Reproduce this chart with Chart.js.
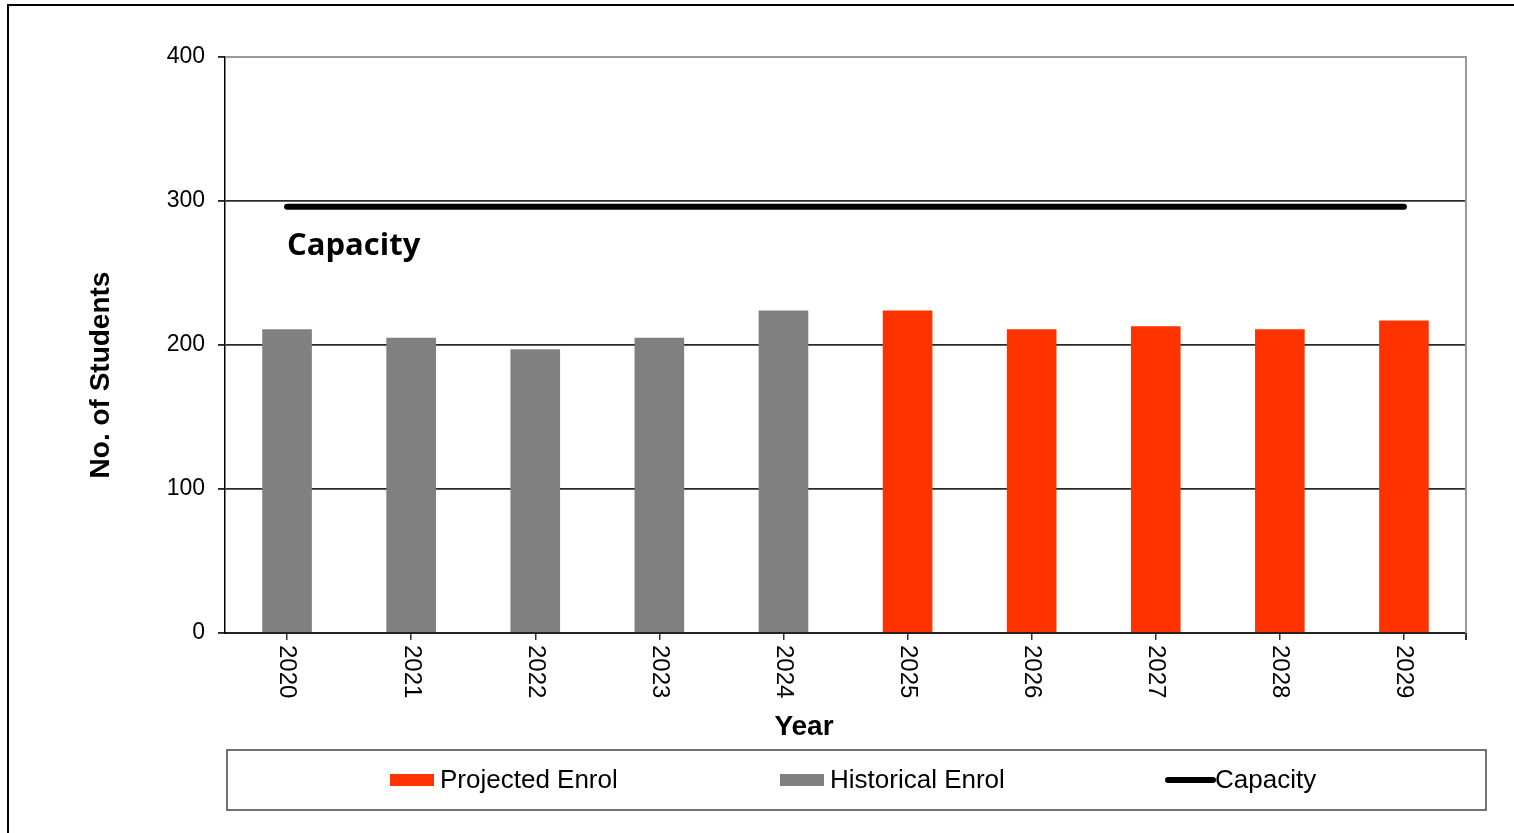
<!DOCTYPE html>
<html>
<head>
<meta charset="utf-8">
<script src="https://cdn.jsdelivr.net/npm/chart.js@4.4.1/dist/chart.umd.min.js"></script>
<style>
  html, body { margin: 0; padding: 0; background: #fff; overflow: hidden; }
  #frame { position: absolute; left: 7px; top: 4px; width: 1600px; height: 900px;
           border-left: 2px solid #000; border-top: 2px solid #000; }
  #wrap { position: absolute; left: 0; top: 0; width: 1514px; height: 833px; }
</style>
</head>
<body>
<div id="frame"></div>
<div id="wrap"><canvas id="enrolChart"></canvas></div>
<script>
const years = ['2020', '2021', '2022', '2023', '2024', '2025', '2026', '2027', '2028', '2029'];
const historicalEnrol = [211, 205, 197, 205, 224, null, null, null, null, null];
const projectedEnrol = [null, null, null, null, null, 224, 211, 213, 211, 217];
const capacity = [296, 296, 296, 296, 296, 296, 296, 296, 296, 296];
const yTicks = [0, 100, 200, 300, 400];

const RED = '#FF3300';
const GREY = '#808080';

// x labels are drawn rotated clockwise, plus axis titles, legend and plot border
const extras = {
    id: 'extras',
    afterDraw(chart) {
        const { ctx, chartArea, scales } = chart;
        const x = scales.x;
        ctx.save();

        // right / top border of the plot area
        ctx.strokeStyle = '#999999';
        ctx.lineWidth = 2;
        ctx.beginPath();
        ctx.moveTo(chartArea.left, chartArea.top);
        ctx.lineTo(chartArea.right, chartArea.top);
        ctx.lineTo(chartArea.right, chartArea.bottom);
        ctx.stroke();
        ctx.strokeStyle = '#333';
        ctx.beginPath();
        ctx.moveTo(chartArea.right, chartArea.bottom);
        ctx.lineTo(chartArea.right, chartArea.bottom + 7);
        ctx.stroke();

        // x tick labels
        ctx.fillStyle = '#000';
        ctx.font = '24px "Liberation Sans", Arial, sans-serif';
        ctx.textAlign = 'left';
        ctx.textBaseline = 'middle';
        years.forEach((yr, i) => {
            const px = x.getPixelForValue(i);
            ctx.save();
            ctx.translate(px, chartArea.bottom + 12);
            ctx.rotate(Math.PI / 2);
            ctx.fillText(yr, 0, 0);
            ctx.restore();
        });

        // axis titles
        ctx.font = 'bold 28px "Liberation Sans", Arial, sans-serif';
        ctx.textAlign = 'center';
        ctx.fillText('Year', 804, 727);
        ctx.save();
        ctx.translate(101, 375);
        ctx.rotate(-Math.PI / 2);
        ctx.fillText('No. of Students', 0, 0);
        ctx.restore();

        // capacity label
        ctx.font = 'bold 31px "Open Sans", sans-serif';
        ctx.textAlign = 'left';
        ctx.fillText('Capacity', 287, 246);

        // legend
        ctx.strokeStyle = '#444';
        ctx.lineWidth = 1.5;
        ctx.strokeRect(227, 750, 1259, 60);
        const ds = chart.data.datasets;
        ctx.font = '26px "Liberation Sans", Arial, sans-serif';
        ctx.textBaseline = 'middle';
        const items = [
            { d: ds[0], x: 390, line: false },
            { d: ds[1], x: 780, line: false },
            { d: ds[2], x: 1165, line: true }
        ];
        items.forEach(it => {
            if (it.line) {
                ctx.strokeStyle = it.d.borderColor;
                ctx.lineWidth = 6;
                ctx.lineCap = 'round';
                ctx.beginPath();
                ctx.moveTo(it.x + 3, 780);
                ctx.lineTo(it.x + 48, 780);
                ctx.stroke();
                ctx.lineCap = 'butt';
            } else {
                ctx.fillStyle = it.d.backgroundColor;
                ctx.fillRect(it.x, 774, 44, 12);
            }
            ctx.fillStyle = '#000';
            ctx.fillText(it.d.label, it.x + 50, 781);
        });

        ctx.restore();
    }
};

const chart = new Chart(document.getElementById('enrolChart').getContext('2d'), {
    data: {
        labels: years,
        datasets: [
            {
                type: 'bar',
                label: 'Projected Enrol',
                data: projectedEnrol,
                backgroundColor: RED,
                grouped: false,
                barPercentage: 0.4,
                categoryPercentage: 1.0,
                order: 2
            },
            {
                type: 'bar',
                label: 'Historical Enrol',
                data: historicalEnrol,
                backgroundColor: GREY,
                grouped: false,
                barPercentage: 0.4,
                categoryPercentage: 1.0,
                order: 3
            },
            {
                type: 'line',
                label: 'Capacity',
                data: capacity,
                borderColor: '#000000',
                borderWidth: 6,
                borderCapStyle: 'round',
                pointRadius: 0,
                fill: false,
                order: 1
            }
        ]
    },
    options: {
        responsive: true,
        maintainAspectRatio: false,
        animation: false,
        layout: {
            padding: { left: 0, top: 57, right: 48, bottom: 0 }
        },
        plugins: {
            legend: { display: false },
            tooltip: { enabled: false }
        },
        scales: {
            x: {
                offset: true,
                grid: {
                    offset: false,
                    drawOnChartArea: false,
                    drawTicks: true,
                    tickLength: 7,
                    tickColor: '#333',
                    lineWidth: 1.5
                },
                border: { color: '#222', width: 2 },
                ticks: { display: false },
                afterFit: (scale) => { scale.height = 200; }
            },
            y: {
                min: 0,
                max: 400,
                afterBuildTicks: (scale) => { scale.ticks = yTicks.map(v => ({ value: v })); },
                grid: {
                    color: (c) => c.tick && c.tick.value === 400 ? '#999999' : '#2a2a2a',
                    lineWidth: 1.8,
                    tickLength: 7,
                    tickColor: '#222'
                },
                border: { color: '#000', width: 1.5 },
                ticks: {
                    color: '#000',
                    padding: 13,
                    font: { family: "'Liberation Sans', Arial, sans-serif", size: 23 }
                },
                afterFit: (scale) => { scale.width = 225; }
            }
        }
    },
    plugins: [extras]
});
</script>
</body>
</html>
